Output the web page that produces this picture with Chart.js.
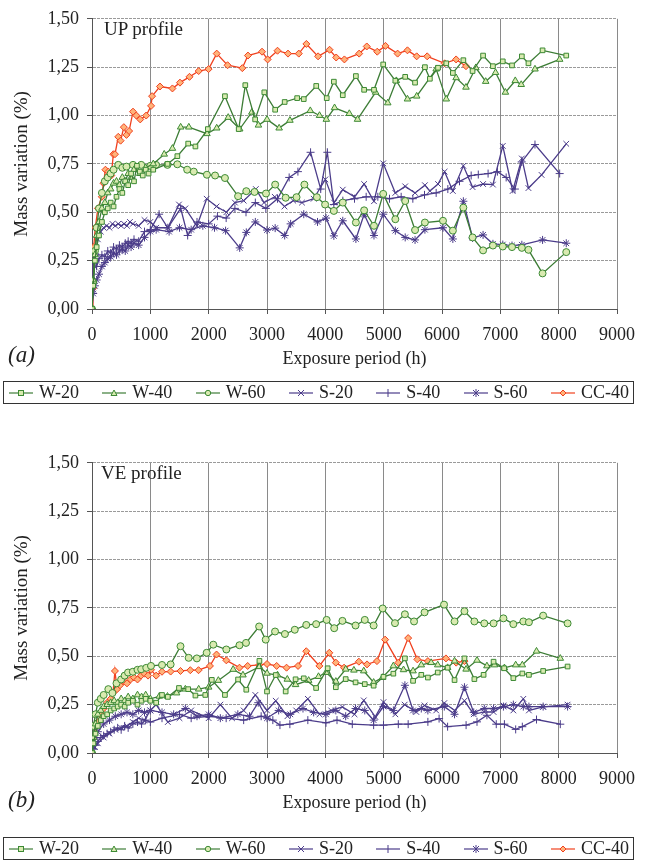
<!DOCTYPE html>
<html>
<head>
<meta charset="utf-8">
<script src="https://cdn.jsdelivr.net/npm/chart.js@4/dist/chart.umd.min.js"></script>
<style>
  body { margin:0; background:#fff; width:645px; height:861px; position:relative; overflow:hidden;
         font-family:'Liberation Serif','DejaVu Serif',serif; color:#222; }
  .chartbox { position:absolute; left:0; width:645px; height:372px; }
  .tag { position:absolute; left:8px; font-style:italic; font-size:23px; }
  .inlabel { position:absolute; font-size:19px; }
  .legend { position:absolute; left:3px; width:631px; height:23px; border:1px solid #333;
            display:flex; align-items:center; justify-content:space-between; padding:0 4px;
            box-sizing:border-box; font-size:18px; }
  .legend span { display:flex; align-items:center; gap:5px; }
</style>
</head>
<body>

<div class="chartbox" style="top:0"><canvas id="upChart" width="645" height="372"></canvas></div>
<div class="inlabel" style="left:104px;top:18px">UP profile</div>
<div class="tag" style="top:342px">(a)</div>
<div class="legend" id="legendUp" style="top:381px"></div>

<div class="chartbox" style="top:444px"><canvas id="veChart" width="645" height="372"></canvas></div>
<div class="inlabel" style="left:101px;top:462px">VE profile</div>
<div class="tag" style="top:787px">(b)</div>
<div class="legend" id="legendVe" style="top:837px"></div>

<script>
// Series names (legend order)
const seriesNames = ['W-20', 'W-40', 'W-60', 'S-20', 'S-40', 'S-60', 'CC-40'];

// (a) UP profile - [hours, mass variation %]
const up_W20 = [[0,0],[20,0.12],[50,0.25],[80,0.32],[120,0.38],[170,0.45],[220,0.5],[270,0.52],[320,0.55],[370,0.53],[420,0.58],[470,0.62],[520,0.6],[570,0.66],[620,0.64],[670,0.7],[720,0.66],[770,0.74],[820,0.71],[870,0.69],[920,0.72],[970,0.7],[1050,0.72],[1294,0.75],[1463,0.79],[1649,0.855],[1773,0.84],[1986,0.93],[2279,1.1],[2515,0.93],[2628,1.157],[2797,0.98],[2954,1.12],[3140,1.03],[3303,1.07],[3517,1.09],[3630,1.085],[3844,1.153],[4024,1.09],[4146,1.175],[4299,1.105],[4524,1.204],[4665,1.133],[4834,1.133],[4992,1.264],[5200,1.18],[5369,1.2],[5538,1.17],[5707,1.25],[5792,1.19],[5932,1.247],[6073,1.27],[6186,1.22],[6366,1.286],[6524,1.23],[6704,1.31],[6873,1.255],[7042,1.28],[7200,1.259],[7369,1.306],[7482,1.27],[7724,1.337],[8130,1.31]];
const up_W40 = [[0,0],[20,0.15],[50,0.28],[80,0.38],[120,0.45],[170,0.52],[220,0.55],[270,0.6],[320,0.62],[370,0.65],[420,0.66],[470,0.64],[520,0.68],[570,0.66],[620,0.7],[670,0.68],[720,0.72],[820,0.7],[920,0.73],[1050,0.75],[1238,0.8],[1379,0.83],[1520,0.94],[1660,0.94],[1970,0.906],[2138,0.935],[2335,0.99],[2532,0.93],[2740,1.017],[2853,0.95],[3000,0.98],[3208,0.935],[3393,0.975],[3742,1.025],[3900,1.0],[4017,0.98],[4158,1.04],[4411,1.01],[4552,0.98],[4862,1.12],[5070,1.065],[5217,1.18],[5408,1.085],[5566,1.1],[5900,1.24],[6073,1.085],[6242,1.195],[6411,1.146],[6580,1.247],[6749,1.176],[6918,1.222],[7087,1.12],[7256,1.18],[7358,1.16],[7594,1.24],[8017,1.29]];
const up_W60 = [[0,0],[20,0.14],[50,0.3],[80,0.42],[120,0.52],[170,0.6],[220,0.66],[270,0.68],[320,0.7],[370,0.72],[450,0.745],[520,0.73],[591,0.736],[703,0.745],[844,0.745],[1000,0.74],[1097,0.745],[1294,0.745],[1463,0.748],[1632,0.72],[1745,0.71],[1970,0.694],[2110,0.69],[2279,0.677],[2504,0.583],[2645,0.609],[2786,0.605],[2983,0.597],[3140,0.643],[3320,0.575],[3506,0.578],[3641,0.643],[3855,0.578],[3996,0.54],[4146,0.507],[4299,0.55],[4524,0.447],[4665,0.51],[4834,0.43],[4992,0.595],[5200,0.464],[5369,0.558],[5538,0.408],[5707,0.447],[6017,0.456],[6186,0.405],[6366,0.524],[6524,0.37],[6704,0.303],[6873,0.328],[7042,0.323],[7200,0.32],[7369,0.316],[7482,0.306],[7724,0.184],[8130,0.294]];
const up_S20 = [[0,0],[20,0.1],[40,0.22],[70,0.3],[100,0.36],[150,0.4],[200,0.42],[250,0.43],[300,0.42],[350,0.44],[400,0.43],[450,0.44],[500,0.43],[550,0.44],[600,0.43],[650,0.45],[700,0.44],[800,0.43],[900,0.46],[1000,0.45],[1100,0.42],[1300,0.42],[1491,0.54],[1600,0.52],[1800,0.43],[1966,0.57],[2135,0.53],[2303,0.5],[2450,0.55],[2600,0.56],[2809,0.62],[2950,0.55],[3133,0.58],[3300,0.53],[3450,0.56],[3600,0.55],[3800,0.57],[4000,0.67],[4150,0.55],[4299,0.617],[4500,0.58],[4665,0.646],[4834,0.557],[4992,0.753],[5200,0.6],[5369,0.634],[5538,0.6],[5707,0.64],[5792,0.61],[5932,0.646],[6045,0.71],[6186,0.61],[6366,0.74],[6524,0.63],[6704,0.646],[6873,0.643],[7042,0.843],[7211,0.61],[7369,0.778],[7482,0.625],[7707,0.693],[8130,0.854]];
const up_S40 = [[0,0],[20,0.25],[50,0.28],[80,0.22],[120,0.26],[170,0.28],[220,0.27],[270,0.3],[320,0.29],[370,0.32],[420,0.31],[470,0.33],[520,0.32],[570,0.34],[620,0.35],[670,0.34],[720,0.36],[800,0.35],[900,0.4],[1000,0.41],[1150,0.49],[1300,0.42],[1520,0.52],[1640,0.38],[1800,0.45],[2000,0.44],[2150,0.48],[2300,0.47],[2450,0.52],[2640,0.5],[2800,0.55],[2980,0.52],[3180,0.57],[3380,0.68],[3530,0.71],[3747,0.81],[3921,0.62],[4034,0.81],[4146,0.54],[4300,0.56],[4500,0.57],[4700,0.58],[4900,0.58],[5100,0.57],[5300,0.58],[5500,0.57],[5700,0.59],[5900,0.6],[6100,0.62],[6300,0.66],[6500,0.69],[6622,0.695],[6790,0.7],[6950,0.71],[7100,0.68],[7250,0.62],[7366,0.76],[7594,0.85],[8017,0.7]];
const up_S60 = [[0,0],[20,0.08],[50,0.12],[80,0.15],[120,0.18],[170,0.22],[220,0.24],[270,0.26],[320,0.27],[370,0.29],[420,0.28],[470,0.3],[520,0.31],[570,0.3],[620,0.33],[670,0.32],[720,0.34],[800,0.33],[900,0.37],[1000,0.4],[1100,0.41],[1322,0.4],[1500,0.42],[1700,0.41],[1900,0.43],[2100,0.42],[2290,0.405],[2532,0.316],[2645,0.396],[2800,0.45],[3000,0.408],[3140,0.418],[3303,0.38],[3405,0.44],[3630,0.49],[3866,0.45],[4012,0.47],[4146,0.378],[4299,0.456],[4524,0.362],[4665,0.49],[4834,0.38],[4992,0.49],[5200,0.405],[5369,0.37],[5538,0.357],[5707,0.41],[6017,0.42],[6186,0.362],[6366,0.557],[6524,0.367],[6704,0.383],[6873,0.337],[7042,0.333],[7200,0.328],[7369,0.332],[7724,0.357],[8130,0.34]];
const up_CC40 = [[0,0],[17,0.107],[30,0.32],[56,0.42],[101,0.52],[169,0.58],[197,0.65],[230,0.72],[281,0.71],[330,0.69],[366,0.8],[394,0.8],[450,0.89],[490,0.87],[546,0.94],[591,0.9],[636,0.92],[703,1.02],[760,1.0],[827,0.98],[929,1.0],[1013,1.05],[1030,1.1],[1165,1.15],[1379,1.14],[1508,1.17],[1671,1.2],[1829,1.23],[1998,1.24],[2138,1.32],[2324,1.26],[2577,1.245],[2673,1.31],[2915,1.33],[3011,1.29],[3180,1.335],[3360,1.32],[3545,1.32],[3675,1.37],[3876,1.306],[4073,1.34],[4186,1.3],[4327,1.29],[4580,1.32],[4710,1.357],[4890,1.33],[5031,1.36],[5239,1.32],[5408,1.337],[5566,1.306],[5746,1.306],[6045,1.27],[6242,1.29],[6411,1.255]];

// (b) VE profile - [hours, mass variation %]
const ve_W20 = [[0,0],[25,0.05],[60,0.1],[100,0.14],[150,0.17],[200,0.19],[260,0.2],[320,0.22],[380,0.23],[440,0.24],[500,0.25],[560,0.24],[620,0.26],[700,0.27],[780,0.25],[850,0.27],[920,0.28],[1000,0.27],[1100,0.26],[1200,0.3],[1300,0.29],[1491,0.336],[1649,0.33],[1773,0.297],[1942,0.3],[2054,0.378],[2279,0.3],[2504,0.38],[2645,0.327],[2870,0.476],[3000,0.318],[3150,0.403],[3320,0.318],[3490,0.381],[3630,0.386],[3842,0.336],[4040,0.438],[4180,0.34],[4349,0.382],[4518,0.365],[4676,0.356],[4828,0.348],[4997,0.394],[5166,0.41],[5364,0.489],[5504,0.373],[5645,0.404],[5758,0.39],[5927,0.416],[6096,0.441],[6215,0.377],[6385,0.489],[6555,0.382],[6713,0.404],[6884,0.472],[7065,0.438],[7223,0.387],[7377,0.411],[7490,0.404],[7734,0.424],[8153,0.447]];
const ve_W40 = [[0,0],[25,0.08],[60,0.15],[100,0.2],[150,0.22],[200,0.24],[260,0.25],[320,0.26],[380,0.27],[440,0.26],[500,0.28],[560,0.27],[620,0.29],[700,0.28],[780,0.3],[850,0.29],[920,0.3],[1000,0.28],[1154,0.293],[1294,0.293],[1450,0.31],[1600,0.33],[1829,0.33],[2000,0.34],[2166,0.375],[2420,0.432],[2588,0.403],[2870,0.446],[3000,0.412],[3180,0.403],[3348,0.381],[3490,0.353],[3714,0.375],[3883,0.395],[4011,0.416],[4180,0.37],[4349,0.433],[4490,0.428],[4659,0.424],[4828,0.365],[4980,0.39],[5166,0.45],[5340,0.43],[5504,0.424],[5645,0.455],[5814,0.467],[5927,0.455],[6096,0.441],[6215,0.475],[6413,0.433],[6600,0.479],[6770,0.45],[6900,0.455],[7070,0.44],[7263,0.455],[7377,0.455],[7620,0.526],[8028,0.489]];
const ve_W60 = [[0,0],[25,0.14],[60,0.2],[100,0.26],[150,0.28],[200,0.3],[280,0.33],[350,0.31],[420,0.36],[500,0.38],[560,0.4],[618,0.416],[700,0.42],[780,0.43],[843,0.433],[930,0.44],[1011,0.45],[1200,0.455],[1348,0.458],[1517,0.552],[1657,0.492],[1798,0.489],[1966,0.518],[2079,0.56],[2303,0.535],[2528,0.557],[2640,0.569],[2865,0.654],[2978,0.586],[3138,0.628],[3307,0.615],[3476,0.637],[3673,0.662],[3842,0.666],[4022,0.688],[4152,0.645],[4293,0.683],[4518,0.659],[4676,0.688],[4828,0.659],[4983,0.747],[5194,0.671],[5364,0.717],[5521,0.68],[5701,0.727],[6035,0.767],[6215,0.68],[6385,0.733],[6555,0.68],[6725,0.67],[6884,0.67],[7053,0.696],[7223,0.666],[7394,0.68],[7490,0.676],[7734,0.71],[8153,0.67]];
const ve_S20 = [[0,0],[50,0.03],[100,0.05],[200,0.08],[300,0.1],[400,0.12],[500,0.13],[600,0.14],[700,0.16],[800,0.18],[900,0.17],[1000,0.22],[1100,0.25],[1300,0.16],[1500,0.18],[1700,0.22],[2000,0.18],[2200,0.25],[2400,0.18],[2600,0.22],[2800,0.3],[3000,0.22],[3150,0.27],[3350,0.19],[3500,0.22],[3700,0.28],[3900,0.2],[4100,0.22],[4293,0.238],[4500,0.2],[4659,0.272],[4856,0.187],[4997,0.263],[5200,0.2],[5360,0.25],[5560,0.212],[5701,0.246],[5900,0.22],[6040,0.258],[6215,0.22],[6385,0.27],[6544,0.2],[6725,0.212],[6884,0.212],[7053,0.246],[7223,0.22],[7394,0.28],[7490,0.22],[7734,0.238],[8153,0.25]];
const ve_S40 = [[0,0],[25,0.02],[60,0.04],[100,0.06],[150,0.08],[200,0.09],[260,0.1],[320,0.11],[380,0.12],[440,0.13],[500,0.12],[560,0.14],[620,0.13],[700,0.15],[780,0.16],[850,0.15],[920,0.17],[1000,0.16],[1200,0.18],[1500,0.2],[1700,0.18],[2000,0.19],[2300,0.18],[2600,0.17],[2900,0.19],[3100,0.17],[3222,0.144],[3392,0.149],[3700,0.17],[4011,0.156],[4200,0.17],[4462,0.149],[4828,0.144],[4997,0.144],[5251,0.149],[5420,0.149],[5758,0.161],[5950,0.178],[6096,0.136],[6413,0.144],[6600,0.161],[6770,0.195],[6930,0.149],[7070,0.149],[7263,0.122],[7377,0.136],[7620,0.173],[8028,0.149]];
const ve_S60 = [[0,0],[50,0.08],[100,0.11],[200,0.15],[300,0.17],[400,0.19],[500,0.2],[600,0.21],[700,0.2],[800,0.22],[900,0.21],[1000,0.22],[1200,0.21],[1400,0.2],[1600,0.23],[1800,0.19],[2000,0.2],[2200,0.18],[2500,0.2],[2700,0.19],[2850,0.26],[3000,0.18],[3200,0.22],[3400,0.2],[3617,0.23],[3800,0.21],[4011,0.2],[4180,0.22],[4349,0.19],[4518,0.23],[4676,0.22],[4828,0.17],[4997,0.24],[5166,0.22],[5364,0.35],[5504,0.22],[5645,0.23],[5758,0.22],[6040,0.24],[6215,0.2],[6385,0.34],[6544,0.21],[6725,0.23],[6884,0.23],[7053,0.24],[7223,0.25],[7394,0.24],[7490,0.24],[7734,0.24],[8153,0.24]];
const ve_CC40 = [[0,0],[25,0.08],[60,0.136],[100,0.16],[150,0.2],[200,0.23],[260,0.26],[320,0.28],[360,0.31],[393,0.424],[430,0.33],[480,0.35],[540,0.37],[600,0.36],[660,0.38],[720,0.39],[780,0.38],[840,0.4],[900,0.41],[960,0.4],[1011,0.43],[1100,0.4],[1200,0.42],[1348,0.421],[1517,0.424],[1685,0.428],[1826,0.428],[2022,0.45],[2135,0.509],[2303,0.479],[2528,0.441],[2669,0.45],[2865,0.455],[3000,0.46],[3166,0.45],[3335,0.441],[3532,0.45],[3673,0.526],[3898,0.45],[4068,0.518],[4180,0.467],[4321,0.441],[4575,0.472],[4715,0.458],[4885,0.475],[5025,0.586],[5251,0.467],[5420,0.594],[5577,0.484],[5758,0.475],[6068,0.489],[6243,0.467],[6385,0.475]];

const xTickLabel = v => String(v);
const yTickLabel = v => v.toFixed(2).replace('.', ',');

// Look of each series
const styles = {
  'W-20':  { line:'#3d7d36', edge:'#3d8a35', fill:'#d9eab0', shape:'rect',     r:3.3 },
  'W-40':  { line:'#3d7d36', edge:'#3d8a35', fill:'#d9eab0', shape:'triangle', r:3.8 },
  'W-60':  { line:'#3d7d36', edge:'#3d8a35', fill:'#d9eab0', shape:'circle',   r:3.5 },
  'S-20':  { line:'#4b3c8a', edge:'#4b3c8a', fill:'#4b3c8a', shape:'crossRot', r:4 },
  'S-40':  { line:'#4b3c8a', edge:'#4b3c8a', fill:'#4b3c8a', shape:'cross',    r:4 },
  'S-60':  { line:'#4b3c8a', edge:'#4b3c8a', fill:'#4b3c8a', shape:'star',     r:4 },
  'CC-40': { line:'#f0401e', edge:'#f0401e', fill:'#ffb37a', shape:'rectRot',  r:3.5 }
};

Chart.defaults.font.family = "'Liberation Serif','DejaVu Serif',serif";
Chart.defaults.color = '#222';

function makeChart(id, seriesList) {
  const datasets = seriesList.map((pts, i) => {
    const st = styles[seriesNames[i]];
    return {
      label: seriesNames[i],
      data: pts.map(p => ({ x: p[0], y: p[1] })),
      borderColor: st.line,
      borderWidth: 1.3,
      pointStyle: st.shape,
      pointRadius: st.r,
      pointBorderColor: st.edge,
      pointBackgroundColor: st.fill,
      pointBorderWidth: 1,
      tension: 0,
      fill: false
    };
  });
  return new Chart(document.getElementById(id), {
    type: 'line',
    data: { datasets },
    options: {
      animation: false,
      responsive: false,
      layout: { padding: { top: 15, right: 22, left: 0, bottom: 0 } },
      plugins: { legend: { display: false }, tooltip: { enabled: false } },
      scales: {
        x: {
          type: 'linear', min: 0, max: 9000,
          ticks: { stepSize: 1000, padding: 10, maxRotation: 0, autoSkip: false, font: { size: 18 }, color: '#222', callback: xTickLabel },
          grid: { color: '#8a8a8a', tickLength: 5, tickColor: '#555' },
          border: { color: '#555' },
          title: { display: true, text: 'Exposure period (h)', font: { size: 18 }, color: '#222', padding: { top: 0, bottom: 2 } },
          afterFit(s) { s.height = 63; }
        },
        y: {
          min: 0, max: 1.5,
          ticks: { stepSize: 0.25, padding: 8, font: { size: 18 }, color: '#222', callback: yTickLabel },
          grid: { color: '#9a9a9a', tickLength: 5, tickColor: '#555' },
          border: { color: '#555', dash: [3, 1] },
          title: { display: true, text: 'Mass variation (%)', font: { size: 19 }, color: '#222', padding: { top: 11, bottom: 0 } },
          afterFit(s) { s.width = 92; }
        }
      }
    }
  });
}

makeChart('upChart', [up_W20, up_W40, up_W60, up_S20, up_S40, up_S60, up_CC40]);
makeChart('veChart', [ve_W20, ve_W40, ve_W60, ve_S20, ve_S40, ve_S60, ve_CC40]);

// HTML legends with small line+marker icons
function markerSvg(st) {
  const c = 13, y = 6;
  let m = '';
  if (st.shape === 'rect') m = `<rect x="${c-2.5}" y="${y-2.5}" width="5" height="5" fill="${st.fill}" stroke="${st.edge}"/>`;
  else if (st.shape === 'triangle') m = `<polygon points="${c},${y-3} ${c+3},${y+2.5} ${c-3},${y+2.5}" fill="${st.fill}" stroke="${st.edge}"/>`;
  else if (st.shape === 'circle') m = `<circle cx="${c}" cy="${y}" r="2.7" fill="${st.fill}" stroke="${st.edge}"/>`;
  else if (st.shape === 'crossRot') m = `<path d="M${c-3} ${y-3}L${c+3} ${y+3}M${c+3} ${y-3}L${c-3} ${y+3}" stroke="${st.edge}"/>`;
  else if (st.shape === 'cross') m = `<path d="M${c} ${y-4}L${c} ${y+4}" stroke="${st.edge}"/>`;
  else if (st.shape === 'star') m = `<path d="M${c-3} ${y-3}L${c+3} ${y+3}M${c+3} ${y-3}L${c-3} ${y+3}M${c} ${y-4}L${c} ${y+4}" stroke="${st.edge}"/>`;
  else m = `<polygon points="${c},${y-3} ${c+3},${y} ${c},${y+3} ${c-3},${y}" fill="${st.fill}" stroke="${st.edge}"/>`;
  return `<svg width="26" height="12"><line x1="1" y1="${y}" x2="25" y2="${y}" stroke="${st.line}" stroke-width="1.2"/>${m}</svg>`;
}
['legendUp', 'legendVe'].forEach(id => {
  document.getElementById(id).innerHTML = seriesNames
    .map(n => `<span>${markerSvg(styles[n])}${n}</span>`).join('');
});
</script>
</body>
</html>
